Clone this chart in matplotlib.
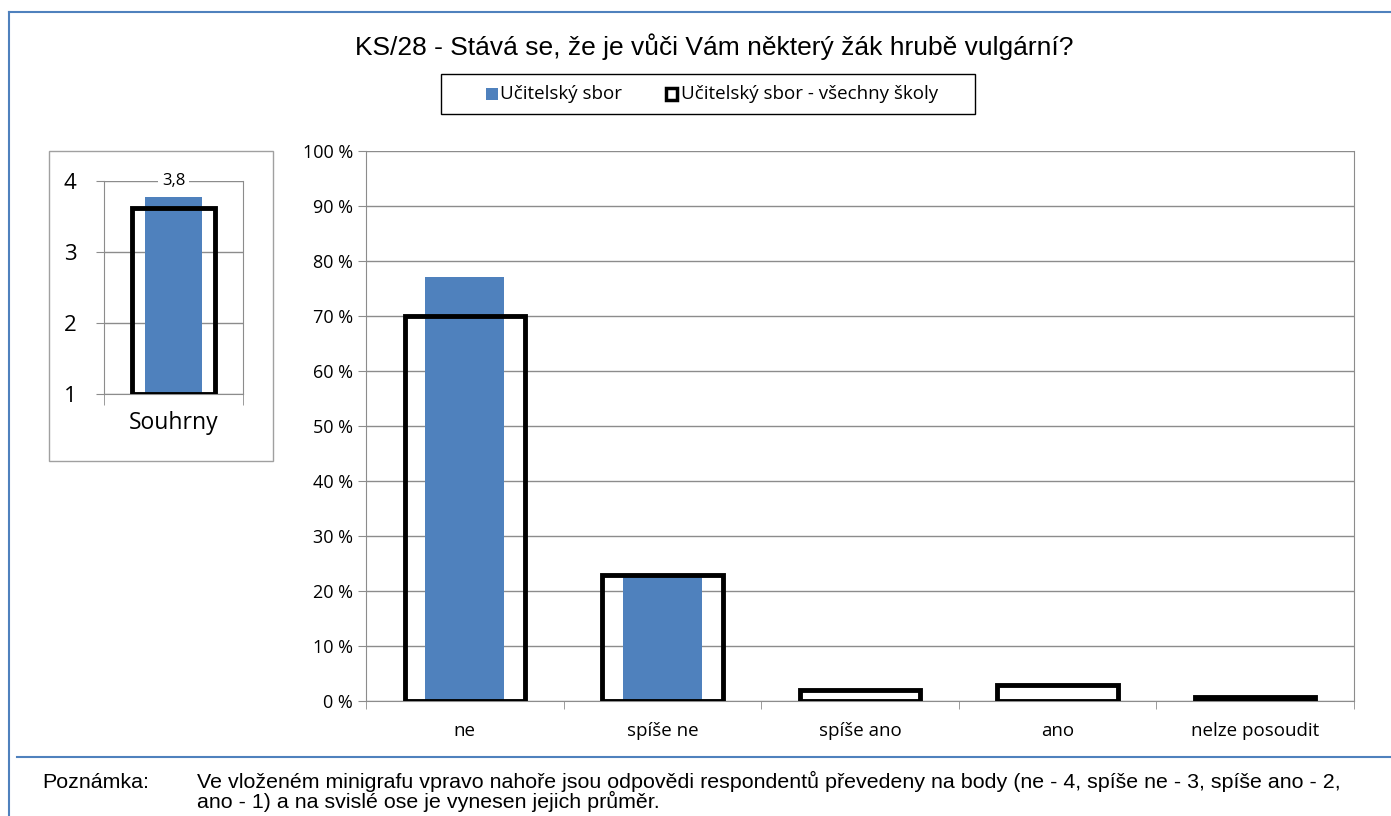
import matplotlib.pyplot as plt
import numpy as np
from matplotlib.patches import Rectangle
from matplotlib.lines import Line2D

categories = ["ne", "spíše ne", "spíše ano", "ano", "nelze posoudit"]
school = [77, 23, 0, 0, 0]
all_schools = [70, 23, 2, 3, 0.7]
summary_school = 3.77
summary_all = 3.62
summary_label = "3,8"

title = "KS/28 - Stává se, že je vůči Vám některý žák hrubě vulgární?"
legend_labels = ["Učitelský sbor", "Učitelský sbor - všechny školy"]
note_head = "Poznámka:"
note_text = ("Ve vloženém minigrafu vpravo nahoře jsou odpovědi respondentů převedeny na body (ne - 4, spíše ne - 3, spíše ano - 2,\n"
             "ano - 1) a na svislé ose je vynesen jejich průměr.")

W, H = 1391, 816
blue = "#4F81BD"
grid = "#8C8C8C"
tickfont = ["Open Sans", "DejaVu Sans"]
arial = ["Liberation Sans", "DejaVu Sans"]

fig = plt.figure(figsize=(W / 100, H / 100), dpi=100)

def rect(l, t, r, b):
    return [l / W, 1 - b / H, (r - l) / W, (b - t) / H]

# frame lines
fig.add_artist(Line2D([9 / W, 1], [1 - 12 / H] * 2, color=blue, lw=1.5))
fig.add_artist(Line2D([9 / W, 9 / W], [0, 1 - 12 / H], color=blue, lw=1.5))
fig.add_artist(Line2D([17 / W, 1], [1 - 757 / H] * 2, color=blue, lw=1.5))

fig.text(714 / W, 1 - 47 / H, title, ha="center", va="center", fontsize=19, family=arial)

# legend box
fig.add_artist(Rectangle((441 / W, 1 - 114 / H), 534 / W, 40 / H, fill=False,
                         ec="black", lw=1, transform=fig.transFigure))
fig.add_artist(Rectangle((486 / W, 1 - 100 / H), 12 / W, 12 / H, fc=blue, ec="none",
                         transform=fig.transFigure))
fig.text(500 / W, 1 - 94 / H, legend_labels[0], va="center", fontsize=13.5, family=tickfont)
fig.add_artist(Rectangle((666 / W, 1 - 100 / H), 11 / W, 12 / H, fc="white", ec="black",
                         lw=2.5, transform=fig.transFigure))
fig.text(681 / W, 1 - 94 / H, legend_labels[1], va="center", fontsize=13.5, family=tickfont)

# main chart
ax = fig.add_axes(rect(366, 151, 1354, 701))
x = np.arange(len(categories))
ax.bar(x, school, width=0.40, color=blue, zorder=2)
ax.bar(x, all_schools, width=0.61, fill=False, edgecolor="black", linewidth=3.5, zorder=3)
ax.set_xlim(-0.5, len(categories) - 0.5)
ax.set_ylim(0, 100)
ax.set_yticks(np.arange(0, 101, 10))
ax.set_yticklabels([f"{v} %" for v in range(0, 101, 10)], fontsize=13, family=tickfont)
ax.set_xticks(x)
ax.set_xticklabels(categories, fontsize=13.5, family=tickfont)
ax.set_xticks(np.arange(-0.5, len(categories)), minor=True)
ax.tick_params(axis="x", which="major", length=0, pad=15)
ax.tick_params(axis="x", which="minor", length=6, color=grid)
ax.tick_params(axis="y", length=6, color=grid)
ax.grid(axis="y", color=grid, lw=1, zorder=0)
ax.set_axisbelow(True)
for s in ax.spines.values():
    s.set_color(grid)
ax.spines["top"].set_visible(False)

# inset
fig.add_artist(Rectangle((49 / W, 1 - 461 / H), 224 / W, 310 / H, fill=False,
                         ec="#A0A0A0", lw=1, transform=fig.transFigure))
ix = fig.add_axes(rect(104, 181, 243, 394))
ix.bar([0], [summary_school - 1], bottom=1, width=0.41, color=blue, zorder=2)
ix.bar([0], [summary_all - 1], bottom=1, width=0.6, fill=False, edgecolor="black",
       linewidth=3.5, zorder=3)
ix.set_xlim(-0.5, 0.5)
ix.set_ylim(1, 4)
ix.set_yticks([1, 2, 3, 4])
ix.set_yticklabels(["1", "2", "3", "4"], fontsize=16, family=tickfont)
ix.set_xticks([0])
ix.set_xticklabels(["Souhrny"], fontsize=16.5, family=tickfont)
ix.set_xticks([-0.5, 0.5], minor=True)
ix.tick_params(axis="x", which="major", length=0, pad=12)
ix.tick_params(axis="x", which="minor", length=8, color=grid)
ix.tick_params(axis="y", length=6, color=grid, pad=14)
ix.grid(axis="y", color=grid, lw=1, zorder=0)
ix.set_axisbelow(True)
for s in ix.spines.values():
    s.set_color(grid)
ix.spines["top"].set_visible(False)
ix.text(0, 4, summary_label, ha="center", va="center", fontsize=12, family=tickfont,
        bbox=dict(fc="white", ec="none", pad=3), zorder=5)

# note
fig.text(42 / W, 1 - 782 / H, note_head, va="center", fontsize=15.4, family=arial)
fig.text(197 / W, 1 - 771 / H, note_text, va="top", fontsize=15.4, family=arial, linespacing=0.95)

fig.savefig("out.png", dpi=100)
